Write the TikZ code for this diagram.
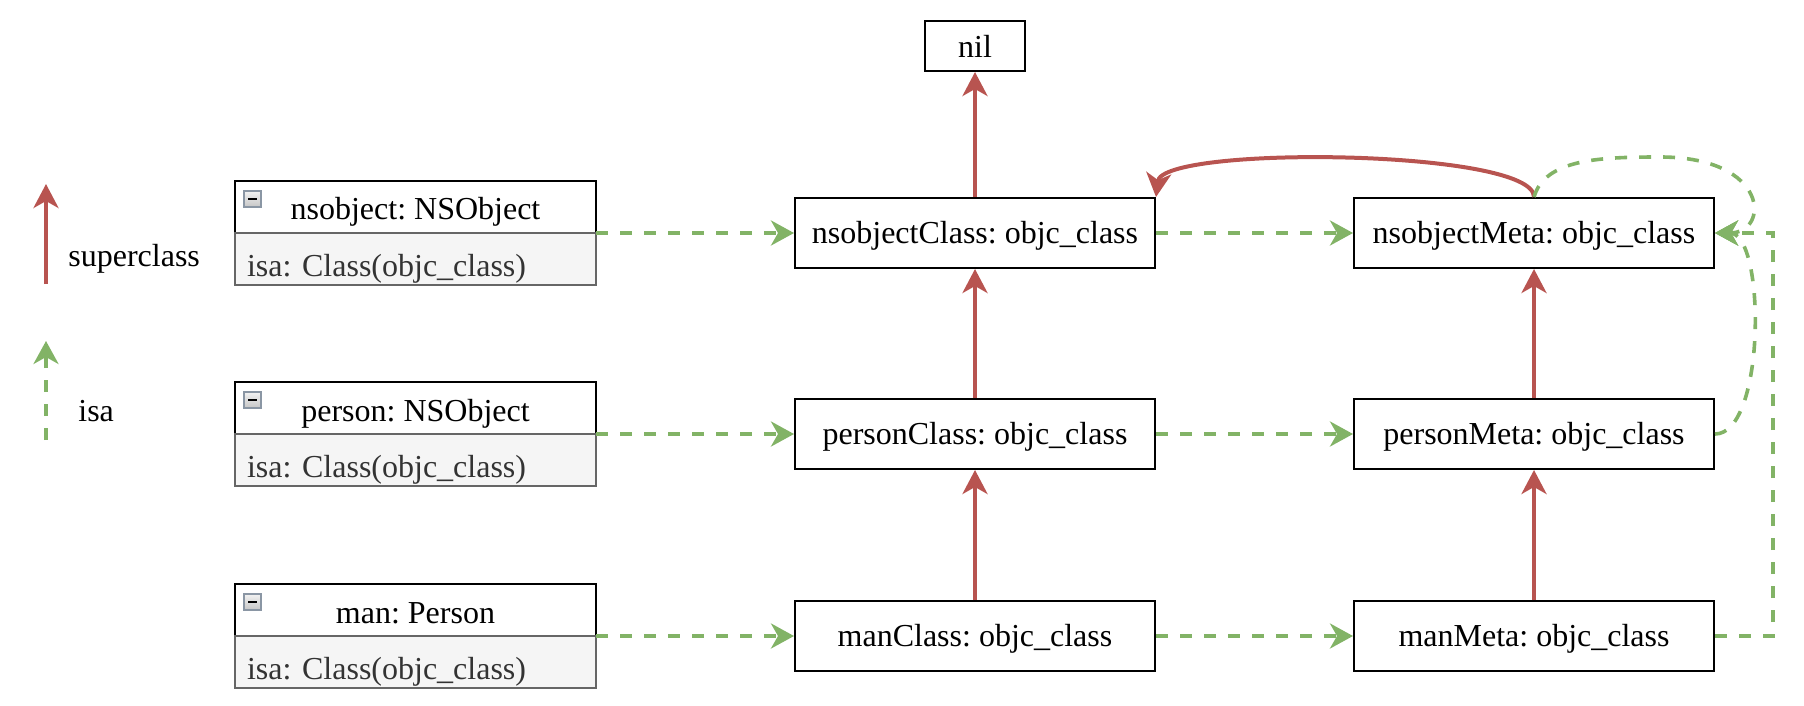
\documentclass[tikz,border=0pt]{standalone}
\usepackage{fontspec}
\setmainfont{Liberation Serif}
\usetikzlibrary{arrows.meta,positioning}

\definecolor{superred}{HTML}{B85450}
\definecolor{isagreen}{HTML}{82B366}
\definecolor{attrfill}{HTML}{F5F5F5}
\definecolor{attrline}{HTML}{666666}
\definecolor{attrtext}{HTML}{333333}
\definecolor{iconline}{HTML}{8A96A4}

\begin{document}
\frenchspacing
\begin{tikzpicture}[x=0.5pt, y=0.5pt,
        every node/.style={font=\fontsize{16}{19}\selectfont, inner sep=0pt},
        classbox/.style={draw, line width=1pt, minimum width=180pt, minimum height=35pt,
            text height=22.5pt, text depth=12.5pt},
        nilbox/.style={draw, line width=1pt, minimum width=50pt, minimum height=25pt,
            text height=18.5pt, text depth=6.5pt},
        objhead/.style={draw, line width=1pt, outer sep=0pt, fill=white, minimum width=180.5pt,
            minimum height=26pt, text height=19.5pt, text depth=6.5pt},
        objattr/.style={draw=attrline, line width=1pt, outer sep=0pt, fill=attrfill, text=attrtext,
            text width=168.5pt, inner xsep=6pt, align=left, text height=21.5pt, text depth=4.5pt},
        minusicon/.style={draw=iconline, line width=0.6pt, top color=gray!10, bottom color=gray!45},
        superarrow/.style={superred, line width=2pt,
            -{Stealth[length=12pt, width=12.5pt, inset=3.5pt]}},
        isaarrow/.style={isagreen, line width=1.8pt, dash pattern=on 6pt off 6pt,
            -{Stealth[length=11.5pt, width=12.5pt, inset=3.5pt]}}
    ]
    \useasboundingbox (0,0) rectangle (1804,-706);

    % legend
    \coordinate (superFrom) at (46,-284);
    \coordinate (superTo) at (46,-184);
    \draw[superarrow] (superFrom) -- (superTo);
    \node[anchor=base west] (superLabel) at (68,-266) {superclass};
    \coordinate (isaFrom) at (46,-440);
    \coordinate (isaTo) at (46,-341);
    \draw[isaarrow] (isaFrom) -- (isaTo);
    \node[anchor=base west] (isaLabel) at (78,-421) {isa};

    % instances
    \node[objhead] (nsobject) at (415.5,-207) {nsobject: NSObject};
    \node[objattr, below=0pt of nsobject] (nsobjectIsa) {isa: Class(objc\_class)};
    \node[objhead] (person) at (415.5,-408) {person: NSObject};
    \node[objattr, below=0pt of person] (personIsa) {isa: Class(objc\_class)};
    \node[objhead] (man) at (415.5,-610) {man: Person};
    \node[objattr, below=0pt of man] (manIsa) {isa: Class(objc\_class)};
    \foreach \obj in {nsobject, person, man} {
        \draw[minusicon] ([shift={(9,-10)}]\obj.north west) rectangle ++(17,-16);
        \draw[line width=1.1pt] ([shift={(13,-18)}]\obj.north west) -- ++(9,0);
    }

    % classes and meta classes
    \node[nilbox] (nil) at (975,-46) {nil};
    \node[classbox] (nsobjectClass) at (975,-233) {nsobjectClass: objc\_class};
    \node[classbox] (personClass) at (975,-434) {personClass: objc\_class};
    \node[classbox] (manClass) at (975,-636) {manClass: objc\_class};
    \node[classbox] (nsobjectMeta) at (1534,-233) {nsobjectMeta: objc\_class};
    \node[classbox] (personMeta) at (1534,-434) {personMeta: objc\_class};
    \node[classbox] (manMeta) at (1534,-636) {manMeta: objc\_class};

    % superclass chain
    \draw[superarrow] (nsobjectClass.north) -- (nil.south);
    \draw[superarrow] (personClass.north) -- (nsobjectClass.south);
    \draw[superarrow] (manClass.north) -- (personClass.south);
    \draw[superarrow] (personMeta.north) -- (nsobjectMeta.south);
    \draw[superarrow] (manMeta.north) -- (personMeta.south);
    \draw[superarrow] (nsobjectMeta.north) .. controls +(0,48) and +(6,52) .. (nsobjectClass.north east);

    % isa pointers
    \draw[isaarrow] (nsobject.south east) -- (nsobjectClass.west);
    \draw[isaarrow] (person.south east) -- (personClass.west);
    \draw[isaarrow] (man.south east) -- (manClass.west);
    \draw[isaarrow] (nsobjectClass.east) -- (nsobjectMeta.west);
    \draw[isaarrow] (personClass.east) -- (personMeta.west);
    \draw[isaarrow] (manClass.east) -- (manMeta.west);
    \coordinate (metaLoopTop) at (1660,-157);
    \draw[isaarrow] (nsobjectMeta.north) .. controls +(11,38) and +(-60,0) .. (metaLoopTop)
        .. controls +(110,0) and +(55,0) .. (nsobjectMeta.east);
    \draw[isaarrow] (personMeta.east) to[out=0, in=0, looseness=0.65] (nsobjectMeta.east);
    \draw[isaarrow] (manMeta.east) -- ++(58,0) |- (nsobjectMeta.east);
\end{tikzpicture}
\end{document}
